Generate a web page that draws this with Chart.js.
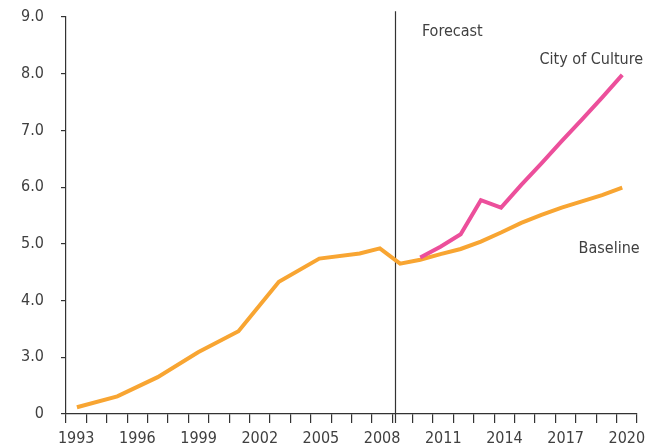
<!DOCTYPE html>
<html>
<head>
    <meta charset="UTF-8">
    <title>City of Culture</title>
    <script src="https://cdn.jsdelivr.net/npm/chart.js"></script>
    <style>
        html, body {
            margin: 0;
            padding: 0;
            background: #fff;
        }

        .chart-container {
            width: 648px;
            height: 447px;
        }
    </style>
</head>
<body>
<div class="chart-container">
    <canvas id="myChart" width="648" height="447"></canvas>
</div>
<script>
    // axis categories
    const years = [1993, 1994, 1995, 1996, 1997, 1998, 1999, 2000, 2001, 2002, 2003, 2004, 2005, 2006,
        2007, 2008, 2009, 2010, 2011, 2012, 2013, 2014, 2015, 2016, 2017, 2018, 2019, 2020];
    const shownYears = [1993, 1996, 1999, 2002, 2005, 2008, 2011, 2014, 2017, 2020];
    const yTicks = [2, 3, 4, 5, 6, 7, 8, 9];
    const yTickLabels = ['0', '3.0', '4.0', '5.0', '6.0', '7.0', '8.0', '9.0'];

    // series
    const baselineYears = [1993, 1995, 1997, 1999, 2001, 2003, 2005, 2007, 2008, 2009, 2010, 2011,
        2012, 2013, 2014, 2015, 2016, 2017, 2018, 2019, 2020];
    const baselineValues = [2.12, 2.31, 2.65, 3.09, 3.46, 4.33, 4.74, 4.83, 4.92, 4.65, 4.72, 4.82,
        4.91, 5.04, 5.20, 5.37, 5.51, 5.64, 5.75, 5.86, 5.99];
    const cultureYears = [2010, 2011, 2012, 2013, 2014, 2015, 2016, 2017, 2018, 2019, 2020];
    const cultureValues = [4.76, 4.95, 5.17, 5.77, 5.64, 6.04, 6.42, 6.81, 7.19, 7.58, 7.98];

    const forecastStart = 2008.75;

    const FONT = '"DejaVu Sans Condensed", "Liberation Sans Narrow", sans-serif';
    const FONT_SIZE = 16;
    const TEXT = '#404040';
    const AXIS = '#333333';

    // labels placed in data units
    const notes = [
        {text: 'Forecast', x: 2010.08, y: 8.67, align: 'left'},
        {text: 'City of Culture', x: 2018.47, y: 8.17, align: 'center'},
        {text: 'Baseline', x: 2019.35, y: 4.83, align: 'center'}
    ];

    const forecastPlugin = {
        id: 'forecast',
        beforeDatasetsDraw(chart) {
            const xs = chart.scales.xd;
            const ys = chart.scales.y;
            const x = Math.round(xs.getPixelForValue(forecastStart)) + 0.5;
            const ctx = chart.ctx;
            ctx.save();
            ctx.strokeStyle = AXIS;
            ctx.lineWidth = 1.2;
            ctx.beginPath();
            ctx.moveTo(x, ys.getPixelForValue(9.1));
            ctx.lineTo(x, chart.chartArea.bottom + 9);
            ctx.stroke();
            ctx.restore();
        },
        afterDatasetsDraw(chart) {
            const xs = chart.scales.xd;
            const ys = chart.scales.y;
            const ctx = chart.ctx;
            ctx.save();
            ctx.fillStyle = TEXT;
            ctx.font = FONT_SIZE + 'px ' + FONT;
            ctx.textBaseline = 'alphabetic';
            notes.forEach(n => {
                ctx.textAlign = n.align;
                ctx.fillText(n.text, xs.getPixelForValue(n.x), ys.getPixelForValue(n.y));
            });
            ctx.restore();
        }
    };

    const ctx = document.getElementById('myChart').getContext('2d');
    new Chart(ctx, {
        type: 'line',
        data: {
            labels: years.map(String),
            datasets: [{
                label: 'Baseline',
                data: baselineYears.map((yr, i) => ({x: yr, y: baselineValues[i]})),
                xAxisID: 'xd',
                borderColor: '#f8a532',
                borderWidth: 4,
                pointRadius: 0,
                tension: 0,
                order: 2
            }, {
                label: 'City of Culture',
                data: cultureYears.map((yr, i) => ({x: yr, y: cultureValues[i]})),
                xAxisID: 'xd',
                borderColor: '#ec4f9b',
                borderWidth: 4,
                pointRadius: 0,
                tension: 0,
                order: 1
            }]
        },
        options: {
            responsive: false,
            animation: false,
            layout: {
                padding: {top: 17, right: 11, left: 0, bottom: 0}
            },
            plugins: {
                legend: {display: false},
                tooltip: {enabled: false}
            },
            scales: {
                x: {
                    type: 'category',
                    offset: true,
                    grid: {
                        offset: true,
                        drawOnChartArea: false,
                        tickLength: 9,
                        color: AXIS,
                        lineWidth: 1.2
                    },
                    border: {color: AXIS, width: 1.2},
                    ticks: {
                        autoSkip: false,
                        maxRotation: 0,
                        padding: 6,
                        color: TEXT,
                        font: {family: FONT, size: FONT_SIZE},
                        callback: function (value, index) {
                            return shownYears.includes(years[index]) ? String(years[index]) : '';
                        }
                    },
                    afterFit(scale) {
                        scale.height = 33;
                        scale.paddingLeft = 0;
                        scale.paddingRight = 0;
                    }
                },
                xd: {
                    type: 'linear',
                    display: false,
                    min: 1992.46,
                    max: 2020.73
                },
                y: {
                    min: 2,
                    max: 9,
                    afterBuildTicks(scale) {
                        scale.ticks = yTicks.map(v => ({value: v}));
                    },
                    grid: {
                        drawOnChartArea: false,
                        tickLength: 5,
                        color: AXIS,
                        lineWidth: 1.2
                    },
                    border: {color: AXIS, width: 1.2},
                    ticks: {
                        padding: 17,
                        color: TEXT,
                        font: {family: FONT, size: FONT_SIZE},
                        callback: function (value) {
                            const i = yTicks.indexOf(value);
                            return i >= 0 ? yTickLabels[i] : '';
                        }
                    },
                    afterFit(scale) {
                        scale.width = 66;
                        scale.paddingTop = 0;
                        scale.paddingBottom = 0;
                    }
                }
            }
        },
        plugins: [forecastPlugin]
    });
</script>
</body>
</html>
